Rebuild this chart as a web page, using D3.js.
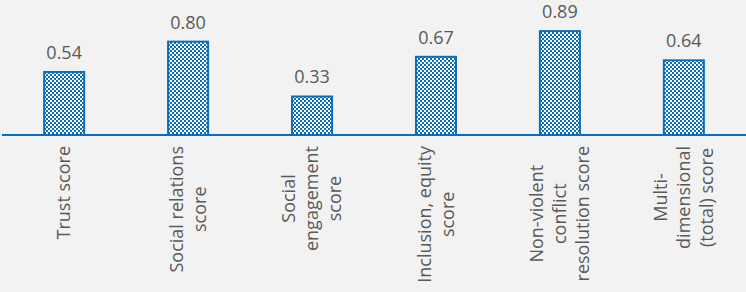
<!DOCTYPE html>
<html>
<head>
<meta charset="utf-8">
<script src="https://cdn.jsdelivr.net/npm/d3@7/dist/d3.min.js"></script>
<style>
  html, body { margin: 0; padding: 0; background: #f2f2f2; }
  svg { display: block; }
  text { font-family: "Open Sans", sans-serif; fill: #595959; }
</style>
</head>
<body>
<div id="chart"></div>
<script>
'use strict';

var categories = ['Trust score', 'Social relations score', 'Social engagement score',
    'Inclusion, equity score', 'Non-violent conflict resolution score', 'Multi-dimensional (total) score'];
var labelLines = [
    ['Trust score'],
    ['Social relations', 'score'],
    ['Social', 'engagement', 'score'],
    ['Inclusion, equity', 'score'],
    ['Non-violent', 'conflict', 'resolution score'],
    ['Multi-', 'dimensional', '(total) score']
];
var values = [0.54, 0.80, 0.33, 0.67, 0.89, 0.64];

var width = 746, height = 292;
var baseY = 135;
var blue = '#0a6ebd';

var svg = d3.select('#chart').append('svg')
    .attr('width', width)
    .attr('height', height);

// checkerboard fill
var pat = svg.append('defs').append('pattern')
    .attr('id', 'checks')
    .attr('patternUnits', 'userSpaceOnUse')
    .attr('width', 4).attr('height', 4);
pat.append('rect').attr('width', 4).attr('height', 4).attr('fill', '#ffffff');
pat.append('rect').attr('x', 0).attr('y', 0).attr('width', 2).attr('height', 2).attr('fill', blue);
pat.append('rect').attr('x', 2).attr('y', 2).attr('width', 2).attr('height', 2).attr('fill', blue);

var x = d3.scaleBand()
    .domain(categories)
    .range([2, 746])
    .paddingInner(0.677)
    .paddingOuter(0.34);

var y = d3.scaleLinear()
    .domain([0, 1])
    .range([baseY, 18.3]);

var data = categories.map(function(c, i) {
    return { name: c, value: values[i], lines: labelLines[i] };
});

svg.selectAll('rect.bar')
    .data(data)
  .enter().append('rect')
    .attr('class', 'bar')
    .attr('x', function(d) { return x(d.name); })
    .attr('y', function(d) { return y(d.value); })
    .attr('width', x.bandwidth())
    .attr('height', function(d) { return baseY - y(d.value); })
    .attr('fill', 'url(#checks)')
    .attr('stroke', blue)
    .attr('stroke-width', 2);

// axis line
svg.append('line')
    .attr('x1', 2).attr('x2', 746)
    .attr('y1', baseY).attr('y2', baseY)
    .attr('stroke', blue)
    .attr('stroke-width', 2);

// value labels
svg.selectAll('text.val')
    .data(data)
  .enter().append('text')
    .attr('class', 'val')
    .attr('x', function(d) { return x(d.name) + x.bandwidth() / 2; })
    .attr('y', function(d) { return y(d.value) - 13; })
    .attr('text-anchor', 'middle')
    .style('font-size', '18px')
    .text(function(d) { return d3.format('.2f')(d.value); });

// rotated category labels, lines centred, block hanging from the axis
var lh = 23;
var groups = svg.selectAll('g.cat')
    .data(data)
  .enter().append('g')
    .attr('class', 'cat')
    .attr('transform', function(d) {
        return 'translate(' + (x(d.name) + x.bandwidth() / 2) + ',146) rotate(-90)';
    });

groups.each(function(d) {
    var g = d3.select(this);
    var n = d.lines.length;
    var texts = g.selectAll('text')
        .data(d.lines)
      .enter().append('text')
        .attr('text-anchor', 'middle')
        .attr('y', function(l, i) { return (i - (n - 1) / 2) * lh; })
        .attr('dy', '0.35em')
        .style('font-size', '18px')
        .text(function(l) { return l; });
    var maxLen = 0;
    texts.each(function() { maxLen = Math.max(maxLen, this.getComputedTextLength()); });
    texts.attr('x', -maxLen / 2);
});
</script>
</body>
</html>
